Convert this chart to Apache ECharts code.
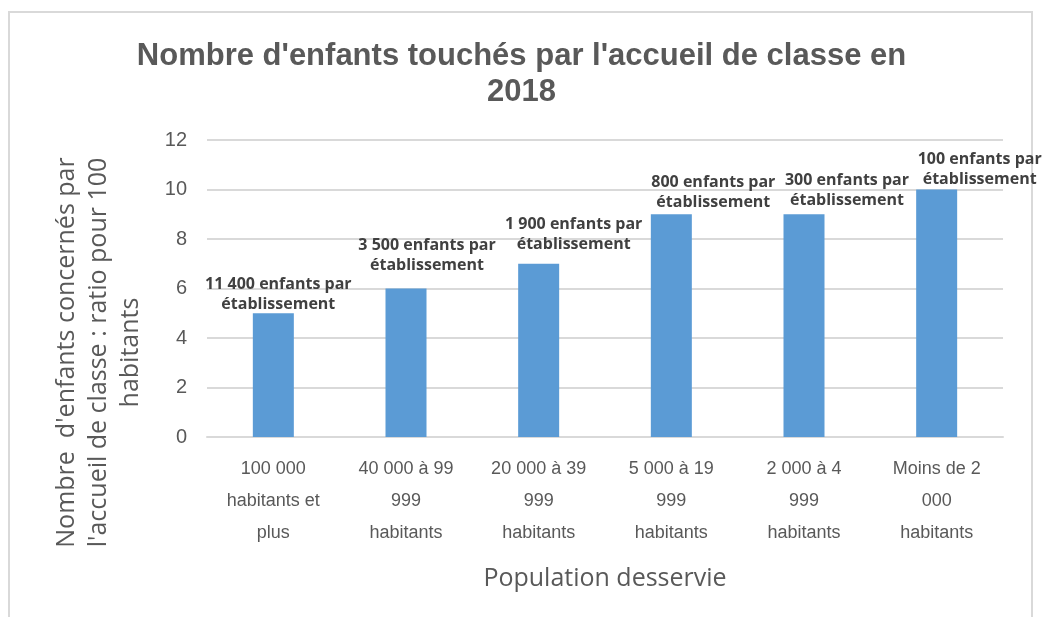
<!DOCTYPE html>
<html lang="fr">
<head>
    <meta charset="UTF-8">
    <title>Accueil de classe 2018</title>
    <script src="https://cdn.jsdelivr.net/npm/echarts@6/dist/echarts.min.js"></script>
    <style>
        body { margin: 0; background: #fff; }
        #frame { position: absolute; left: 8px; top: 11px; width: 1025px; height: 620px; border: 2px solid #d9d9d9; box-sizing: border-box; }
        #main { position: absolute; left: 0; top: 0; width: 1043px; height: 617px; }
    </style>
</head>
<body>
<div id="frame"></div>
<div id="main"></div>

<script type="text/javascript">
    // catégories de population (retours à la ligne comme sur l'original)
    var categories = [
        '100 000\nhabitants et\nplus',
        '40 000 à 99\n999\nhabitants',
        '20 000 à 39\n999\nhabitants',
        '5 000 à 19\n999\nhabitants',
        '2 000 à 4\n999\nhabitants',
        'Moins de 2\n000\nhabitants'
    ];
    // ratio pour 100 habitants
    var ratios = [5, 6, 7, 9, 9, 10];
    // étiquettes au-dessus des barres
    var labels = [
        '11 400 enfants par\nétablissement',
        '3 500 enfants par\nétablissement',
        '1 900 enfants par\nétablissement',
        '800 enfants par\nétablissement',
        '300 enfants par\nétablissement',
        '100 enfants par\nétablissement'
    ];
    // décalage manuel des étiquettes (comme dans Excel)
    var labelOffsets = [[5, 3], [21, -11], [35, -7], [42, 0], [43, -2], [43, 2]];

    var chartDom = document.getElementById('main');
    var myChart = echarts.init(chartDom);

    var seriesData = ratios.map(function (v, i) {
        return {
            value: v,
            label: { formatter: labels[i], offset: labelOffsets[i] }
        };
    });

    var option = {
        animation: false,
        title: {
            text: "Nombre d'enfants touchés par l'accueil de classe en\n2018",
            left: 'center',
            top: 33,
            textStyle: {
                fontFamily: '"Liberation Sans", sans-serif',
                fontWeight: 'bold',
                fontSize: 31,
                lineHeight: 36,
                color: '#595959'
            }
        },
        grid: {
            left: 207,
            right: 40,
            top: 140,
            bottom: 180
        },
        xAxis: {
            type: 'category',
            data: categories,
            name: 'Population desservie',
            nameLocation: 'middle',
            nameGap: 129,
            nameTextStyle: {
                fontFamily: '"Open Sans", sans-serif',
                fontSize: 25,
                color: '#595959'
            },
            axisLine: { lineStyle: { color: '#d9d9d9', width: 2 } },
            axisTick: { show: false },
            axisLabel: {
                interval: 0,
                margin: 16,
                fontFamily: '"Liberation Sans", sans-serif',
                fontSize: 18,
                lineHeight: 32,
                color: '#595959'
            }
        },
        yAxis: {
            type: 'value',
            min: 0,
            max: 12,
            interval: 2,
            name: "Nombre  d'enfants concernés par\nl'accueil de classe : ratio pour 100\nhabitants",
            nameLocation: 'middle',
            nameGap: 60,
            nameTextStyle: {
                fontFamily: '"Open Sans", sans-serif',
                fontSize: 25,
                lineHeight: 32,
                color: '#595959',
                padding: [0, 128, 0, 0]
            },
            axisLine: { show: false },
            axisTick: { show: false },
            axisLabel: {
                margin: 20,
                fontFamily: '"Liberation Sans", sans-serif',
                fontSize: 20,
                color: '#595959'
            },
            splitLine: { lineStyle: { color: '#d9d9d9', width: 2 } }
        },
        series: [
            {
                type: 'bar',
                data: seriesData,
                barWidth: 41,
                itemStyle: { color: '#5b9bd5' },
                label: {
                    show: true,
                    position: 'top',
                    distance: 2,
                    fontFamily: '"Open Sans", sans-serif',
                    fontWeight: 'bold',
                    fontSize: 16,
                    lineHeight: 20,
                    color: '#404040'
                }
            }
        ]
    };

    myChart.setOption(option);
</script>
</body>
</html>
